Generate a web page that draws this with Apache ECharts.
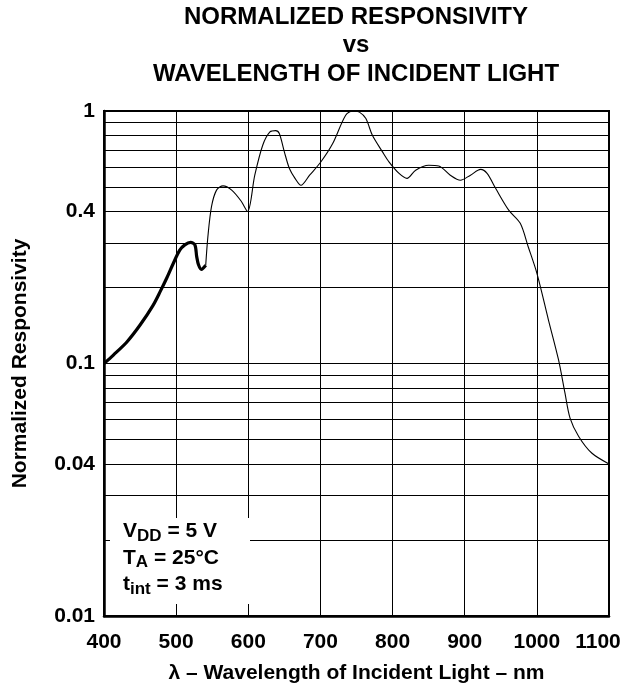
<!DOCTYPE html>
<html>
<head>
<meta charset="utf-8">
<title>Normalized Responsivity vs Wavelength</title>
<script src="https://cdn.jsdelivr.net/npm/echarts@6/dist/echarts.min.js"></script>
<style>
html, body { margin: 0; padding: 0; background: #fff; }
#main { width: 629px; height: 689px; }
</style>
</head>
<body>
<div id="main"></div>
<script>
// values (nm, normalized responsivity)
var thickNm   = [400, 413, 432, 450, 468, 478, 487, 496, 505, 512, 520, 526, 528.5, 531, 535, 541];
var thickResp = [0.100, 0.108, 0.122, 0.142, 0.170, 0.193, 0.218, 0.249, 0.281, 0.295, 0.302, 0.295, 0.265, 0.246, 0.236, 0.245];

var thinNm   = [541, 544, 549, 556, 565, 577, 590, 599, 609, 620, 630, 638, 643, 650, 657, 665, 673,
                685, 700, 717, 735, 745, 754, 763, 772, 786, 795, 809, 820, 832, 850, 864, 880, 894,
                908, 922, 931, 943, 961, 977, 988, 1000, 1016, 1030, 1039, 1046, 1058, 1076, 1100];
var thinResp = [0.245, 0.318, 0.418, 0.486, 0.505, 0.486, 0.44, 0.40, 0.557, 0.732, 0.826, 0.836, 0.814, 0.689, 0.592, 0.54, 0.508,
                0.557, 0.625, 0.743, 0.962, 1.0, 0.99, 0.933, 0.801, 0.689, 0.629, 0.566, 0.541, 0.583, 0.61, 0.606, 0.557, 0.532,
                0.557, 0.587, 0.566, 0.493, 0.405, 0.359, 0.29, 0.228, 0.149, 0.1035, 0.0763, 0.0608, 0.0514, 0.0442, 0.040];

// log grid lines inside each decade, and the extra labelled ones
var minorLines  = [0.02, 0.03, 0.05, 0.06, 0.07, 0.08, 0.09, 0.2, 0.3, 0.5, 0.6, 0.7, 0.8, 0.9];
var extraLabels = [0.04, 0.4];

var FONT = '"Liberation Sans", Arial, Helvetica, sans-serif';
var FS = 21;

function pairs(xs, ys) {
    return xs.map(function (x, i) { return [x, ys[i]]; });
}

var gridLines = minorLines.map(function (v) {
    return { yAxis: v, label: { show: false } };
}).concat(extraLabels.map(function (v) {
    return {
        yAxis: v,
        label: {
            show: true, position: 'start', distance: 9, formatter: String(v),
            color: '#000', fontFamily: FONT, fontWeight: 'bold', fontSize: FS
        }
    };
}));

var chart = echarts.init(document.getElementById('main'));
chart.setOption({
    backgroundColor: '#fff',
    animation: false,
    grid: { left: 104, right: 20, top: 111, bottom: 72, show: true, borderColor: '#000', borderWidth: 2 },
    xAxis: {
        type: 'value', min: 400, max: 1100, interval: 100,
        axisLine: { lineStyle: { color: '#000', width: 2.5 } },
        axisTick: { show: false },
        axisLabel: {
            margin: 16, color: '#000', fontFamily: FONT, fontWeight: 'bold', fontSize: FS,
            formatter: function (v) { return v === 1100 ? '{r|' + v + '}' : String(v); },
            rich: { r: { fontFamily: FONT, fontWeight: 'bold', fontSize: FS, color: '#000', padding: [0, 22, 0, 0] } }
        },
        splitLine: { lineStyle: { color: '#000', width: 1 } },
        name: '\u03bb \u2013 Wavelength of Incident Light \u2013 nm',
        nameLocation: 'middle', nameGap: 47,
        nameTextStyle: { color: '#000', fontFamily: FONT, fontWeight: 'bold', fontSize: FS }
    },
    yAxis: {
        type: 'log', logBase: 10, min: 0.01, max: 1,
        axisLine: { lineStyle: { color: '#000', width: 2.5 } },
        axisTick: { show: false },
        axisLabel: {
            margin: 9, color: '#000', fontFamily: FONT, fontWeight: 'bold', fontSize: FS,
            formatter: function (v) { return String(+v.toPrecision(2)); }
        },
        splitLine: { lineStyle: { color: '#000', width: 1 } },
        name: 'Normalized Responsivity',
        nameLocation: 'middle', nameGap: 73, nameRotate: 90,
        nameTextStyle: { color: '#000', fontFamily: FONT, fontWeight: 'bold', fontSize: FS }
    },
    series: [
        {
            type: 'line', data: pairs(thickNm, thickResp),
            showSymbol: false, smooth: 0.3, z: 5,
            lineStyle: { color: '#000', width: 3.2 }
        },
        {
            type: 'line', data: pairs(thinNm, thinResp),
            showSymbol: false, smooth: 0.3, z: 5,
            lineStyle: { color: '#000', width: 1.1 },
            markLine: {
                silent: true, symbol: ['none', 'none'], animation: false,
                lineStyle: { color: '#000', width: 1, type: 'solid' },
                emphasis: { disabled: true },
                data: gridLines
            }
        }
    ],
    graphic: [
        {
            type: 'text', x: 356, y: 3, z: 100,
            style: {
                text: 'NORMALIZED RESPONSIVITY\nvs\nWAVELENGTH OF INCIDENT LIGHT',
                align: 'center', verticalAlign: 'top', lineHeight: 28.5,
                fill: '#000', font: 'bold 24px ' + FONT
            }
        },
        { type: 'rect', z: 100, shape: { x: 110, y: 518, width: 140, height: 86 }, style: { fill: '#fff' } },
        {
            type: 'text', x: 123, y: 518, z: 101,
            style: {
                text: '{m|V}{s|DD}{m| = 5 V}\n{m|T}{s|A}{m| = 25\u00b0C}\n{m|t}{s|int}{m| = 3 ms}',
                verticalAlign: 'top', fill: '#000',
                rich: {
                    m: { fontFamily: FONT, fontWeight: 'bold', fontSize: FS, lineHeight: 26.5, verticalAlign: 'middle' },
                    s: { fontFamily: FONT, fontWeight: 'bold', fontSize: 17, lineHeight: 17, verticalAlign: 'bottom' }
                }
            }
        }
    ]
});
</script>
</body>
</html>
